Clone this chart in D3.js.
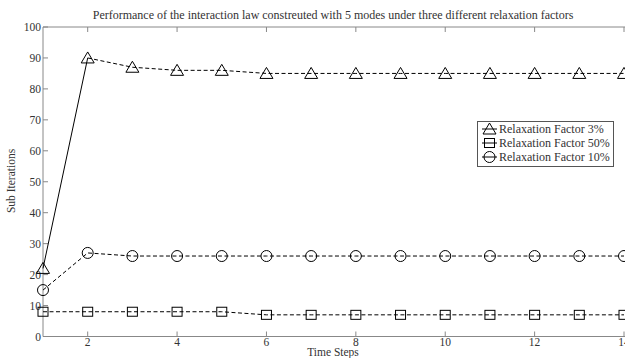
<!DOCTYPE html>
<html><head><meta charset="utf-8">
<script src="https://cdn.jsdelivr.net/npm/d3@7"></script>
<style>body{margin:0;background:#fff}svg{display:block}</style>
</head><body>
<svg id="c" width="625" height="358"></svg>
<script>
const timeSteps = [1,2,3,4,5,6,7,8,9,10,11,12,13,14];
const relax3  = [22,90,87,86,86,85,85,85,85,85,85,85,85,85];
const relax50 = [8,8,8,8,8,7,7,7,7,7,7,7,7,7];
const relax10 = [15,27,26,26,26,26,26,26,26,26,26,26,26,26];
const xTicks = [2,4,6,8,10,12,14];
const yTicks = [0,10,20,30,40,50,60,70,80,90,100];
const seriesNames = ["Relaxation Factor 3%","Relaxation Factor 50%","Relaxation Factor 10%"];
const titleText = "Performance of the interaction law constreuted with 5 modes under three different relaxation factors";

const FONT = "Liberation Serif";
const svg = d3.select("#c");
const L=43, R=624, T=27, B=336.5;
const x = d3.scaleLinear().domain([1,14]).range([L,R]);
const y = d3.scaleLinear().domain([0,100]).range([B,T]);
const axisCol="#888";
const txtCol="#333";
function txt(sel, size){ return sel.append("text").style("font-family",FONT).style("font-size",size+"px").attr("fill",txtCol); }

svg.append("line").attr("x1",L).attr("x2",640).attr("y1",T).attr("y2",T).attr("stroke",axisCol);
svg.append("line").attr("x1",L).attr("x2",640).attr("y1",B).attr("y2",B).attr("stroke",axisCol);
svg.append("line").attr("x1",L).attr("x2",L).attr("y1",T).attr("y2",B).attr("stroke",axisCol);

xTicks.forEach(t=>{
  svg.append("line").attr("x1",x(t)).attr("x2",x(t)).attr("y1",B).attr("y2",B-5).attr("stroke",axisCol);
  svg.append("line").attr("x1",x(t)).attr("x2",x(t)).attr("y1",T).attr("y2",T+5).attr("stroke",axisCol);
  txt(svg,11.5).attr("x",x(t)).attr("y",B+9).attr("text-anchor","middle").text(t);
});
yTicks.forEach(t=>{
  svg.append("line").attr("x1",L).attr("x2",L+5).attr("y1",y(t)).attr("y2",y(t)).attr("stroke",axisCol);
  txt(svg,11.5).attr("x",L-2).attr("y",y(t)+4).attr("text-anchor","end").text(t);
});

txt(svg,12).attr("x",333).attr("y",19).attr("text-anchor","middle").text(titleText);
txt(svg,11.5).attr("x",333).attr("y",356).attr("text-anchor","middle").text("Time Steps");
txt(svg,11.5).attr("transform","translate(15,181) rotate(-90)").attr("text-anchor","middle").text("Sub Iterations");

const line = d3.line().x(d=>x(d[0])).y(d=>y(d[1]));
const g = svg.append("g");
function draw(vals, shape, solidFirst){
  const pts = timeSteps.map((t,i)=>[t,vals[i]]);
  if(solidFirst){
    g.append("path").attr("d",line(pts.slice(0,2))).attr("fill","none").attr("stroke","#000").attr("stroke-width",1);
    g.append("path").attr("d",line(pts.slice(1))).attr("fill","none").attr("stroke","#000").attr("stroke-width",1).attr("stroke-dasharray","4,2.5");
  } else {
    g.append("path").attr("d",line(pts)).attr("fill","none").attr("stroke","#000").attr("stroke-width",1).attr("stroke-dasharray","4,2.5");
  }
  pts.forEach(p=>marker(g,x(p[0]),y(p[1]),shape));
}
function marker(sel,cx,cy,shape){
  if(shape==="tri"){
    sel.append("path").attr("d",`M${cx},${cy-6}L${cx+6.5},${cy+5}L${cx-6.5},${cy+5}Z`).attr("fill","none").attr("stroke","#000");
  } else if(shape==="sq"){
    sel.append("rect").attr("x",cx-5).attr("y",cy-4.5).attr("width",10).attr("height",9).attr("fill","none").attr("stroke","#000");
  } else {
    sel.append("circle").attr("cx",cx).attr("cy",cy).attr("r",5.5).attr("fill","none").attr("stroke","#000");
  }
}
draw(relax3,"tri",true);
draw(relax50,"sq",false);
draw(relax10,"circ",false);

const lg = svg.append("g");
lg.append("rect").attr("x",477.5).attr("y",121.5).attr("width",136).attr("height",45).attr("fill","#fff").attr("stroke","#555");
const shapes=["tri","sq","circ"];
seriesNames.forEach((n,i)=>{
  const yy=129+i*14;
  lg.append("line").attr("x1",482).attr("x2",497).attr("y1",yy).attr("y2",yy).attr("stroke","#000");
  marker(lg,489.5,yy,shapes[i]);
  txt(lg,12).attr("x",499).attr("y",yy+4).text(n);
});
</script>
</body></html>
